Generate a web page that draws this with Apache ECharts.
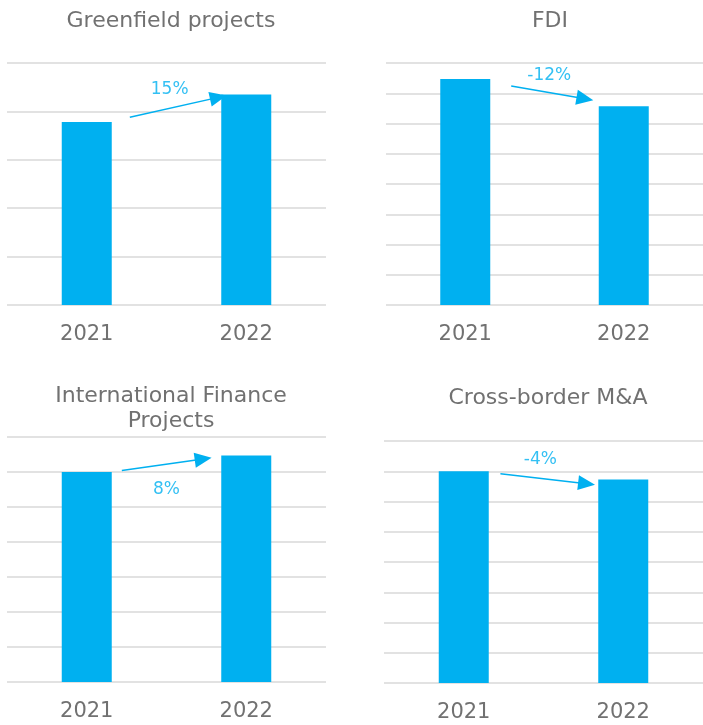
<!DOCTYPE html>
<html lang="en">
<head>
    <meta charset="UTF-8">
    <title>Investment charts</title>
    <style>
        html,body{margin:0;padding:0;background:#fff;}
        #main{
            width: 703px;
            height: 725px;
        }
    </style>
    <script type="text/javascript" src="https://cdn.jsdelivr.net/npm/echarts@6/dist/echarts.min.js"></script>
</head>
<body>
<div id="main"></div>
</body>
<script>
    let years=['2021','2022'];
    let titles=['Greenfield projects','FDI','International Finance\nProjects','Cross-border M&A'];
    let greenfield=[3.78,4.35];
    let fdi=[7.47,6.57];
    let finance=[6,6.47];
    let mna=[7,6.73];
    let changes=['15%','-12%','8%','-4%'];
    let axisMax=[5,8,7,8];

    let panels=[greenfield,fdi,finance,mna];

    // layout of the four panels (pixels)
    let grids=[
        {left:7,top:63,width:319,height:242},
        {left:386,top:63,width:319,height:242},
        {left:7,top:437,width:319,height:245},
        {left:384,top:441,width:319,height:242}
    ];
    let titlePos=[[166,4],[545,4],[166,379],[543,381]];
    // arrow start/end and label spot, in (bar index, value) units
    let arrows=[
        {from:[0.27,3.88],to:[0.825,4.29],text:[0.52,4.45]},
        {from:[0.29,7.24],to:[0.755,6.82],text:[0.53,7.58]},
        {from:[0.22,6.04],to:[0.73,6.37],text:[0.50,5.51]},
        {from:[0.23,6.92],to:[0.77,6.59],text:[0.48,7.38]}
    ];

    let blue='#00b0f0';
    let grey='#717171';
    let font='DejaVu Sans';

    let chart=echarts.init(document.getElementById('main'));

    let option={
        animation:false,
        title:titles.map((t,i)=>({
            text:t,
            left:titlePos[i][0],
            top:titlePos[i][1],
            textAlign:'center',
            textStyle:{color:grey,fontFamily:font,fontWeight:'normal',fontSize:22,lineHeight:25}
        })),
        grid:grids,
        xAxis:[],
        yAxis:[],
        series:[]
    };

    panels.forEach((vals,i)=>{
        option.xAxis.push({
            type:'category',
            gridIndex:i,
            data:years,
            axisLine:{show:false},
            axisTick:{show:false},
            axisLabel:{color:grey,fontFamily:font,fontSize:21,margin:19}
        });
        option.xAxis.push({
            type:'value',
            gridIndex:i,
            min:-0.5,
            max:1.5,
            show:false
        });
        option.yAxis.push({
            type:'value',
            gridIndex:i,
            min:0,
            max:axisMax[i],
            interval:1,
            axisLine:{show:false},
            axisTick:{show:false},
            axisLabel:{show:false},
            splitLine:{lineStyle:{color:'#d9d9d9',width:1.5}}
        });
        option.series.push({
            type:'bar',
            xAxisIndex:i*2,
            yAxisIndex:i,
            data:vals,
            barWidth:50,
            itemStyle:{color:blue},
            silent:true
        });
        let a=arrows[i];
        option.series.push({
            type:'scatter',
            xAxisIndex:i*2+1,
            yAxisIndex:i,
            symbolSize:0,
            silent:true,
            data:[a.text],
            label:{
                show:true,
                position:'inside',
                formatter:changes[i],
                color:blue,
                fontFamily:font,
                fontSize:17
            },
            markLine:{
                silent:true,
                symbol:['none','triangle'],
                symbolSize:[15,17],
                label:{show:false},
                lineStyle:{color:blue,width:1.5,type:'solid'},
                data:[[{coord:a.from},{coord:a.to}]]
            }
        });
    });

    chart.setOption(option);
</script>
</html>
